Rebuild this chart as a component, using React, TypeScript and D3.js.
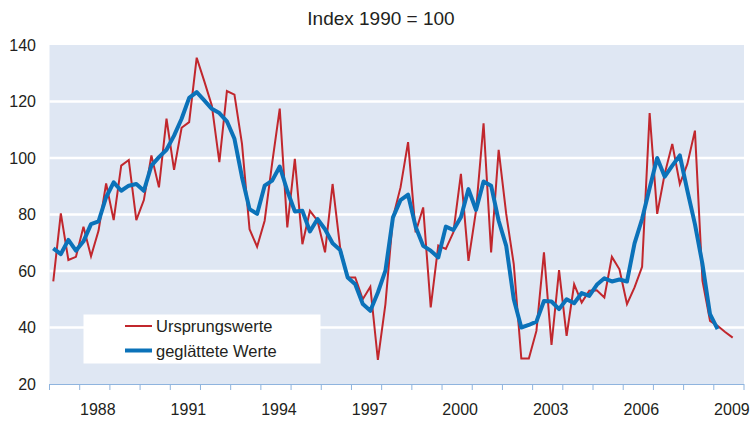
import * as d3 from 'd3'

// quarterly values, first point = 1987 Q1
const startYear = 1987
const original = [
  56.3, 80.4, 63.9, 65.0, 75.7, 65.2, 74.3, 91.0, 78.0, 97.3,
  99.3, 78.0, 85.1, 100.9, 89.6, 113.9, 95.8, 110.7, 112.7, 135.5,
  127.2, 118.6, 98.5, 123.7, 122.4, 105.0, 74.8, 68.6, 77.8, 98.3,
  117.5, 75.4, 99.7, 69.5, 81.3, 77.8, 66.6, 90.8, 68.3, 57.7,
  57.7, 50.0, 54.4, 28.5, 48.3, 79.0, 89.6, 105.6, 73.7, 82.5,
  47.1, 69.0, 67.8, 73.7, 94.4, 63.6, 81.3, 112.3, 66.6, 102.9,
  80.2, 62.4, 29.0, 29.0, 38.8, 66.6, 33.8, 60.3, 37.0, 55.3,
  48.8, 53.0, 53.2, 50.6, 65.0, 60.6, 48.3, 54.2, 61.5, 115.9,
  80.2, 94.4, 105.0, 90.8, 97.9, 109.7, 56.5, 42.3, 40.6, 38.4,
  36.4,
]
const smoothed = [
  68.0, 66.0, 71.0, 67.2, 70.5, 76.6, 77.6, 86.1, 91.4, 88.4,
  90.2, 90.8, 88.4, 97.3, 100.3, 102.9, 107.9, 113.9, 121.3, 123.3,
  120.4, 117.4, 115.9, 113.0, 106.8, 93.2, 81.9, 80.2, 90.2, 92.0,
  97.0, 88.4, 81.1, 81.3, 74.0, 78.4, 74.8, 69.8, 67.4, 57.7,
  55.3, 48.3, 45.9, 52.4, 60.1, 79.0, 85.1, 87.0, 75.7, 68.9,
  67.2, 64.8, 75.7, 74.5, 79.0, 89.0, 81.6, 91.7, 90.2, 77.8,
  68.9, 50.0, 40.0, 40.9, 42.1, 49.4, 49.2, 46.5, 50.0, 48.6,
  52.2, 51.2, 55.1, 57.4, 56.3, 57.0, 56.3, 69.8, 78.4, 89.4,
  100.0, 93.4, 97.3, 100.9, 88.4, 76.6, 62.4, 44.7, 39.4,
]
const yTicks = [20, 40, 60, 80, 100, 120, 140]
const gridValues = [40, 60, 80, 100, 120]
const yearLabels = [1988, 1991, 1994, 1997, 2000, 2003, 2006, 2009]
const yearTicks = d3.range(1987, 2011)

const legendItems = [
  { label: 'Ursprungswerte', color: '#c1272d', width: 2 },
  { label: 'geglättete Werte', color: '#0b72b9', width: 4 },
]

export default function App() {
  const width = 751
  const height = 421
  const x = d3.scaleLinear().domain([1987, 2010]).range([49.5, 744])
  const y = d3.scaleLinear().domain([20, 140]).range([384, 45])
  const qx = (i: number) => x(startYear + (i + 0.5) / 4)

  const line = d3.line<number>()
    .x((d, i) => qx(i))
    .y(d => y(d))

  const font = '"Liberation Sans", Arial, sans-serif'

  return (
    <svg width={width} height={height} style={{ position: 'absolute', left: 0, top: 0, background: '#fff' }}>
      <text x={381} y={25} textAnchor="middle" fontFamily={font} fontSize={19} fill="#231f20">
        Index 1990 = 100
      </text>

      <rect x={x(1987)} y={y(140)} width={x(2010) - x(1987)} height={y(20) - y(140)} fill="#dfe7f3" />

      {gridValues.map(v => (
        <line key={v} x1={x(1987)} x2={x(2010)} y1={y(v)} y2={y(v)} stroke="#fff" strokeWidth={2.5} />
      ))}

      {yTicks.map(v => (
        <text key={v} x={36} y={y(v) + 5.5} textAnchor="end" fontFamily={font} fontSize={16} fill="#231f20">
          {v}
        </text>
      ))}

      <line x1={x(1987)} x2={x(2010)} y1={y(20) + 0.5} y2={y(20) + 0.5} stroke="#8fb4de" strokeWidth={1} />
      {yearTicks.map(t => (
        <line key={t} x1={x(t)} x2={x(t)} y1={y(20)} y2={y(20) + 6} stroke="#8fb4de" strokeWidth={1} />
      ))}
      {yearLabels.map(t => (
        <text key={t} x={x(t + 0.5) + 3} y={415} textAnchor="middle" fontFamily={font} fontSize={16} fill="#231f20">
          {t}
        </text>
      ))}

      <path d={line(original) || ''} fill="none" stroke="#c1272d" strokeWidth={2} strokeLinejoin="miter" />
      <path d={line(smoothed) || ''} fill="none" stroke="#0b72b9" strokeWidth={4} strokeLinejoin="round" />

      <rect x={83.5} y={314.5} width={237} height={49} fill="#fff" />
      {legendItems.map((item, i) => (
        <g key={item.label} transform={`translate(0,${326 + i * 24.5})`}>
          <line x1={125} x2={152} y1={0} y2={0} stroke={item.color} strokeWidth={item.width} />
          <text x={156} y={6} fontFamily={font} fontSize={16.5} fill="#231f20">
            {item.label}
          </text>
        </g>
      ))}
    </svg>
  )
}
